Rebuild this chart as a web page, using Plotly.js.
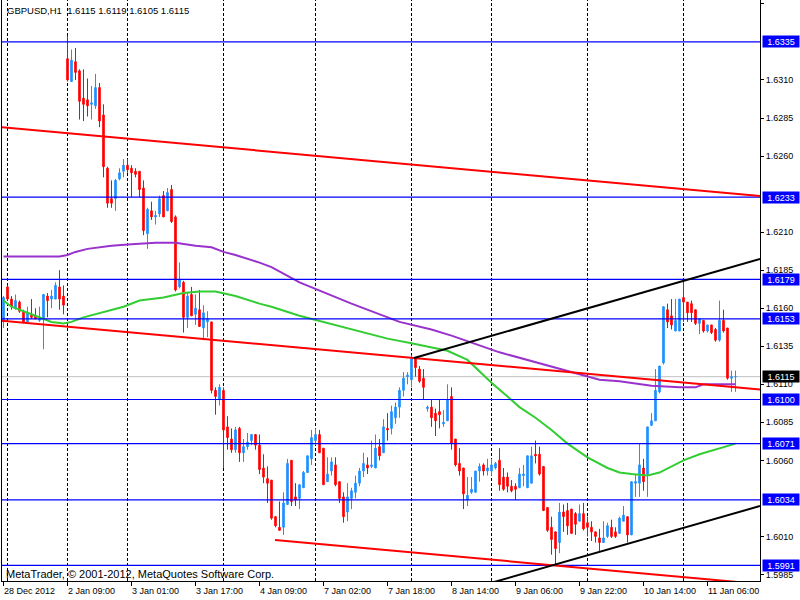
<!DOCTYPE html>
<html><head><meta charset="utf-8">
<script src="https://cdn.plot.ly/plotly-3.0.1.min.js"></script>
<style>html,body{margin:0;padding:0;background:#fff;} #chart{width:800px;height:600px;}</style>
</head><body><div id="chart"></div>
<script>
// ---------- data ----------
const symbolTitle = 'GBPUSD,H1  1.6115 1.6119 1.6105 1.6115';
const copyright = 'MetaTrader, \u00A9 2001-2012, MetaQuotes Software Corp.';

const openP = [1.6151,1.6174,1.6166,1.6160,1.6164,1.6158,1.6151,1.6156,1.6155,1.6152,
1.6153,1.6168,1.6166,1.6166,1.6174,1.6168,1.6324,1.6309,1.6322,1.6316,
1.6298,1.6297,1.6294,1.6293,1.6305,1.6287,1.6252,1.6232,1.6232,1.6245,
1.6250,1.6254,1.6252,1.6250,1.6250,1.6239,1.6209,1.6224,1.6220,1.6222,
1.6234,1.6224,1.6238,1.6220,1.6174,1.6177,1.6154,1.6169,1.6156,1.6159,
1.6147,1.6151,1.6151,1.6106,1.6100,1.6106,1.6082,1.6074,1.6067,1.6081,
1.6065,1.6069,1.6073,1.6077,1.6070,1.6055,1.6048,1.6047,1.6023,1.6016,
1.6016,1.6031,1.6060,1.6036,1.6035,1.6042,1.6052,1.6061,1.6073,1.6077,
1.6068,1.6046,1.6053,1.6057,1.6046,1.6036,1.6026,1.6035,1.6039,1.6045,
1.6053,1.6057,1.6056,1.6055,1.6069,1.6065,1.6081,1.6081,1.6088,1.6095,
1.6106,1.6115,1.6113,1.6127,1.6120,1.6114,1.6094,1.6095,1.6091,1.6092,
1.6084,1.6086,1.6102,1.6074,1.6058,1.6055,1.6034,1.6039,1.6039,1.6053,
1.6057,1.6053,1.6053,1.6055,1.6060,1.6049,1.6049,1.6043,1.6043,1.6042,
1.6050,1.6042,1.6045,1.6064,1.6064,1.6056,1.6029,1.6016,1.6013,1.6006,
1.6026,1.6027,1.6028,1.6025,1.6020,1.6025,1.6019,1.6016,1.6013,1.6009,
1.6006,1.6010,1.6016,1.6013,1.6012,1.6020,1.6023,1.6011,1.6045,1.6045,
1.6055,1.6051,1.6083,1.6086,1.6105,1.6124,1.6159,1.6155,1.6145,1.6145,
1.6167,1.6164,1.6163,1.6159,1.6150,1.6152,1.6145,1.6149,1.6146,1.6139,
1.6152,1.6147,1.6114,1.6115];

const highP = [1.6168,1.6175,1.6168,1.6169,1.6165,1.6159,1.6161,1.6166,1.6160,1.6161,
1.6169,1.6170,1.6172,1.6177,1.6185,1.6175,1.6339,1.6330,1.6331,1.6317,
1.6317,1.6311,1.6306,1.6314,1.6308,1.6294,1.6253,1.6244,1.6245,1.6252,
1.6258,1.6258,1.6254,1.6252,1.6250,1.6244,1.6226,1.6230,1.6224,1.6234,
1.6237,1.6239,1.6241,1.6221,1.6190,1.6178,1.6170,1.6174,1.6169,1.6172,
1.6162,1.6158,1.6151,1.6108,1.6110,1.6108,1.6089,1.6081,1.6082,1.6082,
1.6074,1.6078,1.6077,1.6077,1.6077,1.6064,1.6056,1.6047,1.6023,1.6033,
1.6039,1.6061,1.6060,1.6045,1.6044,1.6053,1.6063,1.6080,1.6081,1.6080,
1.6068,1.6062,1.6062,1.6062,1.6046,1.6039,1.6045,1.6042,1.6050,1.6055,
1.6065,1.6062,1.6073,1.6077,1.6074,1.6087,1.6091,1.6096,1.6098,1.6108,
1.6118,1.6118,1.6129,1.6128,1.6122,1.6120,1.6096,1.6100,1.6094,1.6100,
1.6093,1.6110,1.6108,1.6074,1.6068,1.6055,1.6049,1.6049,1.6053,1.6058,
1.6058,1.6061,1.6061,1.6059,1.6068,1.6055,1.6052,1.6047,1.6045,1.6055,
1.6057,1.6063,1.6069,1.6073,1.6069,1.6056,1.6029,1.6023,1.6013,1.6032,
1.6031,1.6032,1.6028,1.6026,1.6031,1.6032,1.6023,1.6020,1.6013,1.6015,
1.6020,1.6019,1.6021,1.6016,1.6023,1.6030,1.6023,1.6046,1.6051,1.6071,
1.6061,1.6082,1.6091,1.6120,1.6122,1.6161,1.6163,1.6166,1.6166,1.6166,
1.6179,1.6164,1.6165,1.6159,1.6153,1.6152,1.6149,1.6149,1.6147,1.6165,
1.6159,1.6147,1.6119,1.6119];

const lowP = [1.6147,1.6165,1.6159,1.6159,1.6157,1.6150,1.6151,1.6153,1.6153,1.6151,
1.6133,1.6154,1.6160,1.6166,1.6159,1.6156,1.6309,1.6309,1.6310,1.6284,
1.6283,1.6286,1.6284,1.6291,1.6279,1.6246,1.6226,1.6226,1.6224,1.6244,
1.6246,1.6249,1.6233,1.6246,1.6233,1.6208,1.6199,1.6218,1.6215,1.6220,
1.6220,1.6224,1.6216,1.6171,1.6173,1.6144,1.6147,1.6155,1.6149,1.6148,
1.6139,1.6141,1.6104,1.6090,1.6096,1.6055,1.6067,1.6065,1.6065,1.6059,
1.6059,1.6067,1.6070,1.6067,1.6051,1.6045,1.6032,1.6021,1.6016,1.6014,
1.6011,1.6031,1.6030,1.6030,1.6028,1.6042,1.6052,1.6057,1.6070,1.6065,
1.6044,1.6046,1.6050,1.6043,1.6032,1.6019,1.6020,1.6028,1.6035,1.6043,
1.6049,1.6051,1.6055,1.6055,1.6060,1.6065,1.6073,1.6077,1.6084,1.6088,
1.6102,1.6110,1.6108,1.6115,1.6111,1.6100,1.6092,1.6082,1.6076,1.6081,
1.6082,1.6086,1.6067,1.6056,1.6050,1.6028,1.6030,1.6038,1.6039,1.6046,
1.6050,1.6050,1.6050,1.6054,1.6040,1.6040,1.6039,1.6039,1.6034,1.6042,
1.6043,1.6042,1.6045,1.6058,1.6050,1.6027,1.6013,1.5998,1.5991,1.5999,
1.6013,1.6011,1.6012,1.6011,1.6020,1.6014,1.6010,1.6007,1.6006,1.6000,
1.6006,1.6009,1.6009,1.6009,1.6012,1.6020,1.6006,1.6011,1.6036,1.6036,
1.6040,1.6036,1.6083,1.6086,1.6104,1.6123,1.6147,1.6146,1.6145,1.6145,
1.6151,1.6151,1.6151,1.6149,1.6143,1.6144,1.6144,1.6143,1.6138,1.6138,
1.6144,1.6113,1.6105,1.6105];

const closeP = [1.6167,1.6166,1.6161,1.6165,1.6158,1.6151,1.6157,1.6154,1.6153,1.6153,
1.6169,1.6165,1.6168,1.6175,1.6166,1.6162,1.6310,1.6323,1.6315,1.6296,
1.6294,1.6293,1.6295,1.6305,1.6283,1.6253,1.6229,1.6229,1.6244,1.6249,
1.6254,1.6251,1.6249,1.6248,1.6238,1.6211,1.6225,1.6220,1.6221,1.6232,
1.6220,1.6236,1.6217,1.6172,1.6179,1.6154,1.6168,1.6155,1.6160,1.6148,
1.6157,1.6153,1.6106,1.6102,1.6108,1.6080,1.6075,1.6067,1.6080,1.6065,
1.6069,1.6072,1.6077,1.6070,1.6054,1.6049,1.6045,1.6022,1.6017,1.6014,
1.6032,1.6058,1.6033,1.6034,1.6044,1.6052,1.6063,1.6075,1.6077,1.6065,
1.6044,1.6051,1.6059,1.6044,1.6035,1.6023,1.6036,1.6040,1.6045,1.6053,
1.6058,1.6055,1.6057,1.6068,1.6063,1.6082,1.6080,1.6092,1.6095,1.6106,
1.6114,1.6116,1.6127,1.6121,1.6112,1.6108,1.6095,1.6088,1.6086,1.6090,
1.6085,1.6100,1.6071,1.6057,1.6053,1.6038,1.6037,1.6041,1.6053,1.6056,
1.6053,1.6055,1.6057,1.6058,1.6044,1.6041,1.6043,1.6040,1.6041,1.6051,
1.6051,1.6063,1.6063,1.6063,1.6051,1.6027,1.6014,1.6008,1.6002,1.6026,
1.6023,1.6017,1.6012,1.6018,1.6025,1.6015,1.6016,1.6013,1.6010,1.6006,
1.6009,1.6017,1.6010,1.6010,1.6022,1.6024,1.6011,1.6046,1.6046,1.6057,
1.6046,1.6082,1.6086,1.6106,1.6122,1.6161,1.6151,1.6149,1.6152,1.6166,
1.6164,1.6157,1.6157,1.6150,1.6153,1.6145,1.6149,1.6144,1.6139,1.6152,
1.6145,1.6114,1.6115,1.6115];

// moving averages (bar index, price)
const maSlowIdx = [0,14,16,18,21,24,27,32,38,43,48,52,55,58,62,64,67,74,87,99,107,112,124,131,144,149,154,159,162,169,173,175,183];
const maSlowVal = [1.6194,1.6194,1.6195,1.6197,1.6199,1.6200,1.6201,1.6202,1.6203,1.6203,1.6201,1.6200,1.6197,1.6195,1.6192,1.6190,1.6187,1.6177,1.6163,1.6151,1.6146,1.6142,1.6131,1.6126,1.6117,1.6113,1.6112,1.6110,1.6109,1.6108,1.6108,1.6110,1.6110];
const maFastIdx = [0,2,6,9,12,15,17,20,23,27,30,34,40,45,49,53,58,64,67,74,80,87,96,102,111,116,122,126,129,133,137,141,146,151,154,157,161,164,170,174,178,183];
const maFastVal = [1.6165,1.6161,1.6157,1.6154,1.6151,1.6150,1.6151,1.6154,1.6156,1.6159,1.6161,1.6165,1.6167,1.6170,1.6171,1.6171,1.6168,1.6163,1.6161,1.6155,1.6151,1.6146,1.6140,1.6137,1.6132,1.6126,1.6111,1.6102,1.6095,1.6088,1.6080,1.6071,1.6062,1.6055,1.6052,1.6051,1.6050,1.6052,1.6060,1.6064,1.6067,1.6071];

// horizontal levels and current price
const levelPrices = [1.6335,1.6233,1.6179,1.6153,1.6100,1.6071,1.6034,1.5991];
const currentPrice = 1.6115;

// trend lines: start bar, start price, end bar, end price
const redStartIdx = [-0.375,-0.375,67.875];
const redStartP   = [1.62789,1.61518,1.60077];
const redEndIdx   = [189.125,189.125,189.125];
const redEndP     = [1.62337,1.61066,1.59787];
const blackStartIdx = [102.625,119.1];
const blackStartP   = [1.61273,1.59774];
const blackEndIdx   = [189.125,189.125];
const blackEndP     = [1.61923,1.60300];

// axis labels (labels hidden under the level boxes are left out)
const priceTicks = [1.6360,1.6310,1.6285,1.6260,1.6210,1.6185,1.6160,1.6135,1.6110,1.6085,1.6060,1.6010,1.5985];
const timeLabelIdx = [0,16,32,48,64,80,96,112,128,144,160,176];
const timeLabels = ['28 Dec 2012','2 Jan 09:00','3 Jan 01:00','3 Jan 17:00','4 Jan 09:00','7 Jan 02:00','7 Jan 18:00','8 Jan 14:00','9 Jan 06:00','9 Jan 22:00','10 Jan 14:00','11 Jan 06:00'];
const separatorIdx = [1,16,31,55,78,102,122,146,170];

// ---------- chart ----------
const barIdx = openP.map((_, i) => i);
const FONT = 'Liberation Sans, Arial, sans-serif';

const traces = [
  {type:'candlestick', x:barIdx, open:openP, high:highP, low:lowP, close:closeP,
   increasing:{line:{color:'#1E90FF', width:1}, fillcolor:'#1E90FF'},
   decreasing:{line:{color:'#FF0000', width:1}, fillcolor:'#FF0000'},
   whiskerwidth:0, hoverinfo:'skip', showlegend:false},
  {type:'scatter', mode:'lines', x:maSlowIdx, y:maSlowVal, line:{color:'#9932CC', width:2}, hoverinfo:'skip', showlegend:false},
  {type:'scatter', mode:'lines', x:maFastIdx, y:maFastVal, line:{color:'#32CD32', width:2}, hoverinfo:'skip', showlegend:false}
];

const shapes = [];
separatorIdx.forEach(v => shapes.push({type:'line', xref:'x', yref:'paper', x0:v, x1:v, y0:0, y1:1, layer:'below',
  line:{color:'#000000', width:1, dash:'3px,2px'}}));
shapes.push({type:'line', xref:'paper', yref:'y', x0:0, x1:1, y0:currentPrice, y1:currentPrice, layer:'below',
  line:{color:'#C0C0C0', width:1}});
levelPrices.forEach(p => shapes.push({type:'line', xref:'paper', yref:'y', x0:0, x1:1, y0:p, y1:p, layer:'above',
  line:{color:'#0000FF', width:1.2}}));
redStartIdx.forEach((v, k) => shapes.push({type:'line', xref:'x', yref:'y', x0:v, y0:redStartP[k], x1:redEndIdx[k], y1:redEndP[k], layer:'above',
  line:{color:'#FF0000', width:2}}));
blackStartIdx.forEach((v, k) => shapes.push({type:'line', xref:'x', yref:'y', x0:v, y0:blackStartP[k], x1:blackEndIdx[k], y1:blackEndP[k], layer:'above',
  line:{color:'#000000', width:2}}));

const annotations = [];
annotations.push({xref:'paper', yref:'paper', x:0, y:1, xanchor:'left', yanchor:'top', xshift:3, yshift:-3,
  text:symbolTitle, showarrow:false, font:{family:FONT, size:9.5, color:'#000000'}});
annotations.push({xref:'paper', yref:'paper', x:0, y:0, xanchor:'left', yanchor:'bottom', xshift:2, yshift:-1,
  text:copyright, showarrow:false, font:{family:FONT, size:11, color:'#000000'}});
timeLabelIdx.forEach((v, k) => annotations.push({xref:'x', yref:'paper', x:v, y:0, xanchor:'left', yanchor:'top',
  xshift:-2, yshift:-3, text:timeLabels[k], showarrow:false, font:{family:FONT, size:9, color:'#000000'}}));
levelPrices.forEach(p => annotations.push({xref:'paper', yref:'y', x:1, y:p, xanchor:'left', yanchor:'middle', xshift:2,
  text:p.toFixed(4), showarrow:false, bgcolor:'#0000FF', width:36, height:11, borderpad:0,
  font:{family:FONT, size:9, color:'#FFFFFF'}}));
annotations.push({xref:'paper', yref:'y', x:1, y:currentPrice, xanchor:'left', yanchor:'middle', xshift:2,
  text:currentPrice.toFixed(4), showarrow:false, bgcolor:'#000000', width:36, height:11, borderpad:0,
  font:{family:FONT, size:9, color:'#FFFFFF'}});

const layout = {
  width:800, height:600,
  margin:{l:2, r:40, t:0, b:19, pad:0},
  paper_bgcolor:'#FFFFFF', plot_bgcolor:'#FFFFFF',
  font:{family:FONT, size:9, color:'#000000'},
  showlegend:false,
  boxgap:0.45,
  xaxis:{range:[-0.375, 189.125], tickmode:'array', tickvals:timeLabelIdx, ticks:'outside', ticklen:4,
    tickcolor:'#000000', showticklabels:false, showgrid:false, zeroline:false,
    showline:true, linecolor:'#000000', linewidth:1, mirror:true, rangeslider:{visible:false}, fixedrange:true},
  yaxis:{side:'right', range:[1.598071, 1.636257], tickmode:'array', tickvals:priceTicks, tickformat:'.4f',
    ticks:'outside', ticklen:3, tickcolor:'#000000', showgrid:false, zeroline:false,
    showline:true, linecolor:'#000000', linewidth:1, mirror:true, fixedrange:true,
    tickfont:{family:FONT, size:9, color:'#000000'}},
  shapes:shapes,
  annotations:annotations
};

Plotly.newPlot('chart', traces, layout, {displayModeBar:false, staticPlot:true});
</script>
</body></html>
